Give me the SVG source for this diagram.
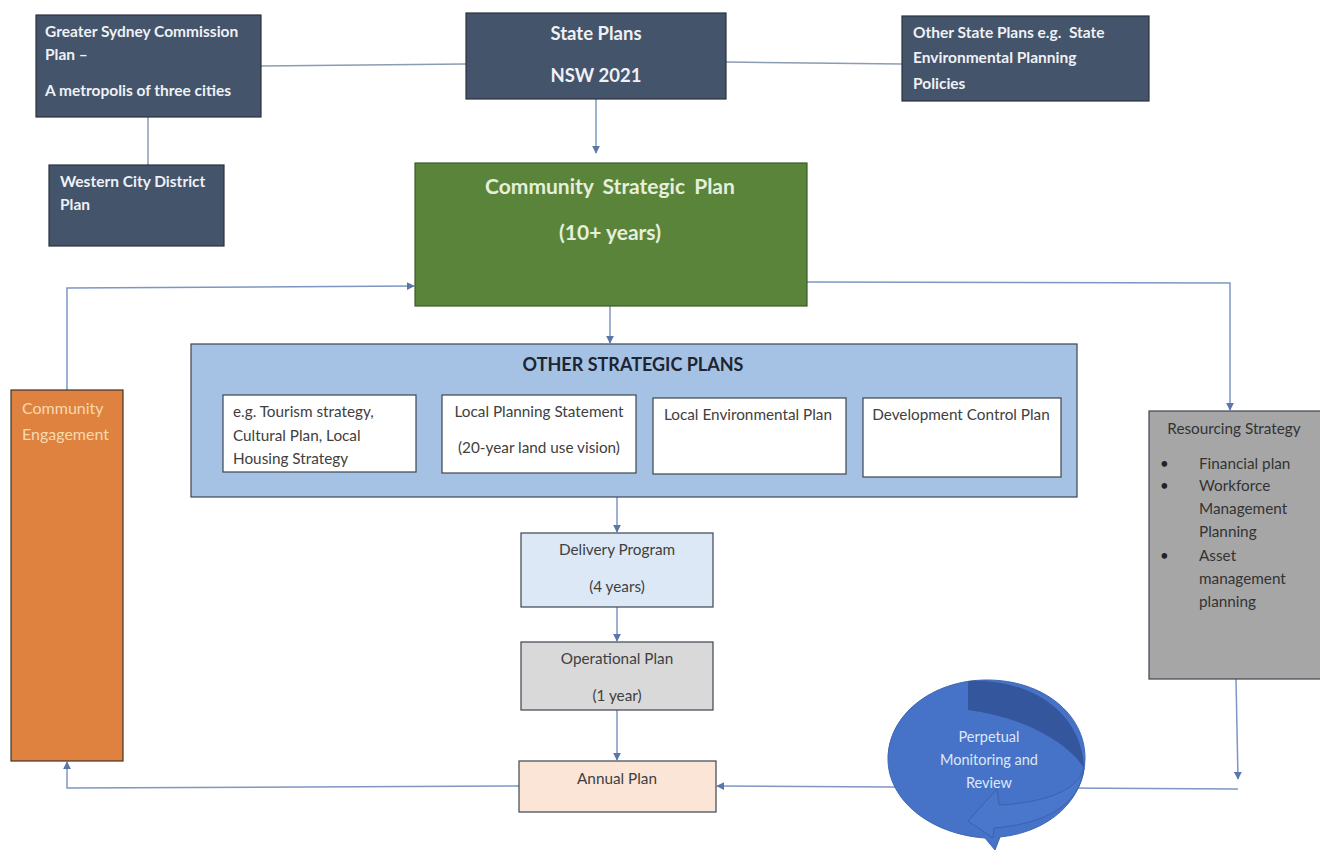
<svg xmlns="http://www.w3.org/2000/svg" width="1320" height="850" viewBox="0 0 1320 850">
<defs>
<style>
.navy{fill:#44546a;stroke:#2a3340;stroke-width:1.2}
.wt{fill:#eef1f5;font-family:Lato,"Liberation Sans",sans-serif;font-weight:bold;font-size:15.5px;white-space:pre}
.wtl{fill:#eef1f5;font-family:Lato,"Liberation Sans",sans-serif;font-weight:bold;font-size:18.5px}
.dk{fill:#404040;font-family:Lato,"Liberation Sans",sans-serif;font-size:15.3px}
.ln{fill:none;stroke:#7d97c2;stroke-width:1.5}
.lg{fill:none;stroke:#8c9cb0;stroke-width:1.5}
.box{stroke:#3d4550;stroke-width:1.2}
.ct{fill:#dfe7f6;font-family:Lato,"Liberation Sans",sans-serif;font-size:14.5px}
</style>
<marker id="ah" viewBox="0 0 10 10" refX="9" refY="5" markerWidth="8" markerHeight="8" orient="auto" markerUnits="userSpaceOnUse">
<path d="M0,0 L10,5 L0,10 z" fill="#5b76a8"/>
</marker>
</defs>
<rect width="1320" height="850" fill="#ffffff"/>

<g id="connectors">
<path class="lg" d="M261,66 L466,64"/>
<path class="lg" d="M726,62 L902,64"/>
<path class="lg" d="M148,117 L148,165"/>
<path class="ln" d="M596,99 L596,153" marker-end="url(#ah)"/>
<path class="ln" d="M610,306 L610,343" marker-end="url(#ah)"/>
<path class="ln" d="M617,497 L617,532" marker-end="url(#ah)"/>
<path class="ln" d="M617,607 L617,641" marker-end="url(#ah)"/>
<path class="ln" d="M617,710 L617,760" marker-end="url(#ah)"/>
<path class="ln" d="M807,282 L1230,283 L1230,410" marker-end="url(#ah)"/>
<path class="ln" d="M67,390 L67,288 L414,286" marker-end="url(#ah)"/>
<path class="ln" d="M519,786 L67,788 L67,762" marker-end="url(#ah)"/>
<path class="ln" d="M1236,679 L1238,779" marker-end="url(#ah)"/>
<path class="ln" d="M1238,789 L717,786" marker-end="url(#ah)"/>
</g>

<g id="gsc">
<rect class="navy" x="36" y="15" width="225" height="102"/>
<text class="wt" x="45" y="37">Greater Sydney Commission</text>
<text class="wt" x="45" y="60">Plan –</text>
<text class="wt" x="45" y="96">A metropolis of three cities</text>
</g>

<g id="wcd">
<rect class="navy" x="49" y="165" width="175" height="81"/>
<text class="wt" x="60" y="187">Western City District</text>
<text class="wt" x="60" y="210">Plan</text>
</g>

<g id="state">
<rect class="navy" x="466" y="13" width="260" height="86"/>
<text class="wtl" x="596" y="40" text-anchor="middle">State Plans</text>
<text class="wtl" x="596" y="82" text-anchor="middle">NSW 2021</text>
</g>

<g id="otherstate">
<rect class="navy" x="902" y="16" width="247" height="85"/>
<text class="wt" x="913" y="38">Other State Plans e.g.  State</text>
<text class="wt" x="913" y="63">Environmental Planning</text>
<text class="wt" x="913" y="89">Policies</text>
</g>

<g id="csp">
<rect x="415" y="163" width="392" height="143" fill="#5b843b" stroke="#3b5a26" stroke-width="1.2"/>
<text x="610" y="194" text-anchor="middle" fill="#e6efdc" font-family="Lato,'Liberation Sans',sans-serif" font-weight="bold" font-size="21" word-spacing="4">Community Strategic Plan</text>
<text x="610" y="240" text-anchor="middle" fill="#e6efdc" font-family="Lato,'Liberation Sans',sans-serif" font-weight="bold" font-size="21">(10+ years)</text>
</g>

<g id="osp">
<rect x="191" y="344" width="886" height="153" fill="#a5c2e5" class="box"/>
<text x="633" y="371" text-anchor="middle" fill="#1e2430" font-family="Lato,'Liberation Sans',sans-serif" font-weight="bold" font-size="18">OTHER STRATEGIC PLANS</text>
</g>

<g id="tourism">
<rect x="223" y="395" width="193" height="77" fill="#ffffff" class="box"/>
<text class="dk" x="233" y="417">e.g. Tourism strategy,</text>
<text class="dk" x="233" y="441">Cultural Plan, Local</text>
<text class="dk" x="233" y="464">Housing Strategy</text>
</g>

<g id="lps">
<rect x="442" y="395" width="194" height="78" fill="#ffffff" class="box"/>
<text class="dk" x="539" y="417" text-anchor="middle">Local Planning Statement</text>
<text class="dk" x="539" y="453" text-anchor="middle">(20-year land use vision)</text>
</g>

<g id="lep">
<rect x="653" y="398" width="193" height="76" fill="#ffffff" class="box"/>
<text class="dk" x="748" y="420" text-anchor="middle">Local Environmental Plan</text>
</g>

<g id="dcp">
<rect x="863" y="398" width="198" height="79" fill="#ffffff" class="box"/>
<text class="dk" x="961" y="420" text-anchor="middle">Development Control Plan</text>
</g>

<g id="delivery">
<rect x="521" y="533" width="192" height="74" fill="#dce8f6" class="box"/>
<text class="dk" x="617" y="555" text-anchor="middle">Delivery Program</text>
<text class="dk" x="617" y="592" text-anchor="middle">(4 years)</text>
</g>

<g id="operational">
<rect x="521" y="642" width="192" height="68" fill="#d9d9d9" class="box"/>
<text class="dk" x="617" y="664" text-anchor="middle">Operational Plan</text>
<text class="dk" x="617" y="701" text-anchor="middle">(1 year)</text>
</g>

<g id="annual">
<rect x="519" y="761" width="197" height="51" fill="#fbe5d6" class="box"/>
<text class="dk" x="617" y="784" text-anchor="middle">Annual Plan</text>
</g>

<g id="engagement">
<rect x="11" y="390" width="112" height="371" fill="#e0823f" stroke="#3d3530" stroke-width="1.2"/>
<text x="22" y="414" fill="#f7d9ae" font-family="Lato,'Liberation Sans',sans-serif" font-size="16">Community</text>
<text x="22" y="440" fill="#f7d9ae" font-family="Lato,'Liberation Sans',sans-serif" font-size="16">Engagement</text>
</g>

<g id="resourcing">
<rect x="1149" y="411" width="175" height="268" fill="#a6a6a6" class="box"/>
<text class="dk" x="1234" y="434" text-anchor="middle" style="fill:#333">Resourcing Strategy</text>
<g fill="#222" font-family="Lato,'Liberation Sans',sans-serif" font-size="15">
<text x="1160" y="469">•</text>
<text x="1160" y="491">•</text>
<text x="1160" y="561">•</text>
</g>
<text class="dk" x="1199" y="469" style="fill:#333">Financial plan</text>
<text class="dk" x="1199" y="491" style="fill:#333">Workforce</text>
<text class="dk" x="1199" y="514" style="fill:#333">Management</text>
<text class="dk" x="1199" y="537" style="fill:#333">Planning</text>
<text class="dk" x="1199" y="561" style="fill:#333">Asset</text>
<text class="dk" x="1199" y="584" style="fill:#333">management</text>
<text class="dk" x="1199" y="607" style="fill:#333">planning</text>
</g>

<g id="monitoring">
<path d="M987,680 C1043,680 1085,714 1085,758 C1085,799 1050,832 1000,837 L995,850 L985,838 C930,834 888,800 888,759 C888,715 932,680 987,680 Z" fill="#4673c8" stroke="#3d66b4" stroke-width="1"/>
<path d="M968,681 C1030,678 1082,712 1084,768 C1066,740 1018,716 968,710 Z" fill="#33569c"/>
<path d="M1084,768 C1078,792 1040,803 999,805 L997,789 L968,821 L993,838 L994,828 C1045,824 1080,805 1084,768 Z" fill="#4a77cb" stroke="#3a62ac" stroke-width="1"/>
<text class="ct" x="989" y="742" text-anchor="middle">Perpetual</text>
<text class="ct" x="989" y="765" text-anchor="middle">Monitoring and</text>
<text class="ct" x="989" y="788" text-anchor="middle">Review</text>
</g>
</svg>
